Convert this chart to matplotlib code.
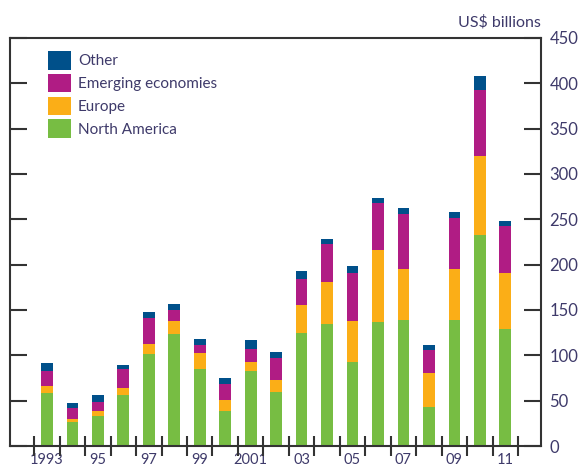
import matplotlib.pyplot as plt
import numpy as np

years = list(range(1993, 2012))
north_america = [58, 26, 33, 56, 102, 124, 85, 38.5, 82.5, 60, 124.5, 135, 93, 137, 139, 43, 139, 233, 128.5]
europe = [8, 4, 6, 8, 10, 14, 18, 12.5, 10, 12.5, 31, 45.5, 45, 79, 56, 37.5, 56, 87, 62]
emerging = [16.5, 12, 10, 20.5, 29, 12, 8.5, 17, 15, 25, 29, 42, 52.5, 52, 61, 25, 57, 73, 52]
other = [8.5, 5, 7, 4.5, 7, 7, 6.5, 7, 9, 6, 8.5, 6, 8.5, 6, 6, 6, 6, 15, 6]

year_labels = ['1993', '95', '97', '99', '2001', '03', '05', '07', '09', '11']

c_na = '#77bd43'
c_eu = '#fbae17'
c_em = '#b01c84'
c_oth = '#00508a'
txt = '#3e3a6a'

plt.rcParams['font.family'] = ['Lato', 'DejaVu Sans']

fig = plt.figure(figsize=(5.81, 4.66), dpi=100)
ax = fig.add_axes([0.0172, 0.0429, 0.9139, 0.8756])

x = np.array(years)
na = np.array(north_america)
eu = np.array(europe)
em = np.array(emerging)
ot = np.array(other)
w = 0.46
b1 = ax.bar(x, na, w, color=c_na, label='North America')
b2 = ax.bar(x, eu, w, bottom=na, color=c_eu, label='Europe')
b3 = ax.bar(x, em, w, bottom=na + eu, color=c_em, label='Emerging economies')
b4 = ax.bar(x, ot, w, bottom=na + eu + em, color=c_oth, label='Other')

ax.set_xlim(1991.55, 2012.4)
ax.set_ylim(0, 450)

ax.yaxis.tick_right()
ax.set_yticks(range(0, 451, 50))
ax.tick_params(axis='y', which='major', direction='in', length=12, width=1.5,
               color='#333333', labelsize=12, labelcolor=txt, left=True, right=True,
               labelleft=False, labelright=True, pad=6)

ax.set_xticks(years[::2])
ax.set_xticklabels(year_labels)
ax.set_xticks(np.arange(1992.5, 2012, 1), minor=True)
ax.tick_params(axis='x', which='major', length=0, labelsize=10.5, labelcolor=txt, pad=5)
ax.tick_params(axis='x', which='minor', direction='inout', length=15, width=1.5, color='#333333')

for s in ax.spines.values():
    s.set_linewidth(1.5)
    s.set_color('#333333')

ax.legend([b4, b3, b2, b1], ['Other', 'Emerging economies', 'Europe', 'North America'],
          loc='upper left', bbox_to_anchor=(0.072, 0.968), frameon=False,
          fontsize=11, labelcolor=txt, handlelength=1.5, handleheight=1.5,
          handletextpad=0.45, labelspacing=0.27, borderaxespad=0, borderpad=0)

fig.text(0.931, 0.952, 'US$ billions', ha='right', va='center', fontsize=11.5, color=txt)

fig.savefig('out.png', dpi=100)
